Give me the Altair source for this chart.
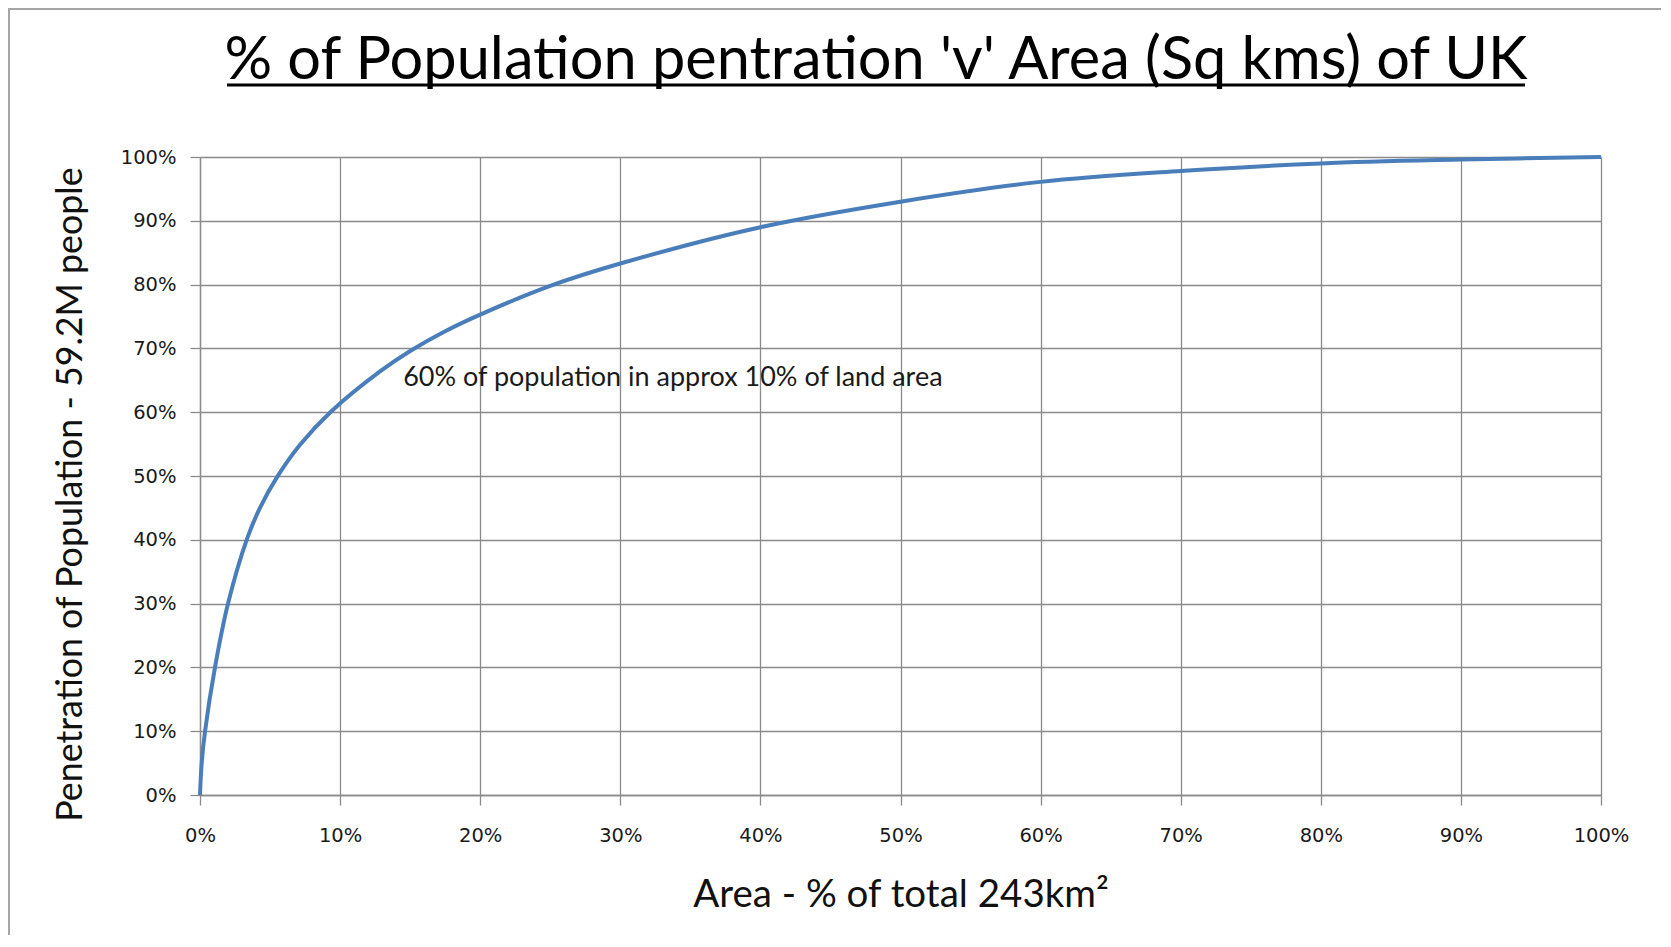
import altair as alt
import pandas as pd

# Data
area_pct = [0, 0.12, 0.36, 1.07, 2.0, 3.33, 4.28, 5.52, 7.14, 9.4, 12.85, 15.0, 17.5, 20.0, 25.0, 30.0, 40.0, 50.0, 60.0, 70.0, 80.0, 90.0, 100.0]
pop_pct = [0, 5.0, 10.0, 20.0, 30.0, 40.0, 45.0, 49.9, 54.9, 60.2, 66.4, 69.6, 72.7, 75.3, 79.8, 83.3, 89.0, 93.0, 96.1, 97.8, 99.0, 99.6, 100.0]

tick_values = [0, 10, 20, 30, 40, 50, 60, 70, 80, 90, 100]

title_text = "% of Population pentration 'v' Area (Sq kms) of UK"
x_title = "Area - % of total 243km²"
y_title = "Penetration of Population - 59.2M people"
annotation_text = ["60% of population in approx 10% of land area"]
annotation_x = [14.5]
annotation_y = [65.4]

W, H = 1401, 638
grid_col = "#8a8a8a"
label_font = "DejaVu Sans"
title_font = "Lato"

df = pd.DataFrame({"area": area_pct, "pop": pop_pct})

x_scale = alt.Scale(domain=[0, 100], nice=False, zero=True)
y_scale = alt.Scale(domain=[0, 100], nice=False, zero=True)

x_axis = alt.Axis(
    values=tick_values, labelExpr="datum.value + '%'", grid=True, gridColor=grid_col, gridWidth=1.3,
    domainColor=grid_col, domainWidth=1.3, tickColor=grid_col, tickWidth=1.3, tickSize=10,
    labelFont=label_font, labelFontSize=19.5, labelColor="#1a1a1a", labelPadding=21,
    labelFlush=False, labelOverlap=False,
    title=x_title, titleFont=title_font, titleFontSize=38.5, titleFontWeight="normal", titleColor="#111111",
    titleBaseline="middle", titleY=99,
)
y_axis = alt.Axis(
    values=tick_values, labelExpr="datum.value + '%'", grid=True, gridColor=grid_col, gridWidth=1.3,
    domainColor=grid_col, domainWidth=1.3, tickColor=grid_col, tickWidth=1.3, tickSize=10,
    labelFont=label_font, labelFontSize=19.5, labelColor="#1a1a1a", labelPadding=14,
    labelFlush=False, labelOverlap=False,
    title=y_title, titleFont=title_font, titleFontSize=35.8, titleFontWeight="normal", titleColor="#111111",
    titleX=-111, titleY=337,
)

line = alt.Chart(df).mark_line(color="#4a7ebb", strokeWidth=4, interpolate="catmull-rom").encode(
    x=alt.X("area:Q", scale=x_scale, axis=x_axis),
    y=alt.Y("pop:Q", scale=y_scale, axis=y_axis),
)

anno_df = pd.DataFrame({"t": annotation_text, "x": annotation_x, "y": annotation_y})
anno = alt.Chart(anno_df).mark_text(
    font=title_font, fontSize=27, align="left", baseline="middle", color="#1a1a1a"
).encode(x=alt.X("x:Q", scale=x_scale), y=alt.Y("y:Q", scale=y_scale), text="t:N")

title_df = pd.DataFrame({"t": [title_text]})
title = alt.Chart(title_df).mark_text(
    font=title_font, fontSize=59.5, align="center", baseline="alphabetic", color="#000000"
).encode(x=alt.value(676), y=alt.value(-78), text="t:N")

underline = alt.Chart(title_df).mark_rule(color="#000000", strokeWidth=3).encode(
    x=alt.value(27), x2=alt.value(1325), y=alt.value(-72)
)

border_left = alt.Chart(title_df).mark_rule(color="#a6a6a6", strokeWidth=2).encode(
    x=alt.value(-191), y=alt.value(-149), y2=alt.value(H + 140)
)
border_top = alt.Chart(title_df).mark_rule(color="#a6a6a6", strokeWidth=2).encode(
    x=alt.value(-192), x2=alt.value(W + 60), y=alt.value(-148)
)

chart = alt.layer(line, anno, title, underline, border_left, border_top).properties(
    width=W, height=H,
    autosize=alt.AutoSizeParams(type="none"),
    padding={"left": 192, "top": 149, "right": 60, "bottom": 140},
).configure_view(stroke=None).configure(background="white")

chart.save("out.html", embed_options={"renderer": "svg", "actions": False})
